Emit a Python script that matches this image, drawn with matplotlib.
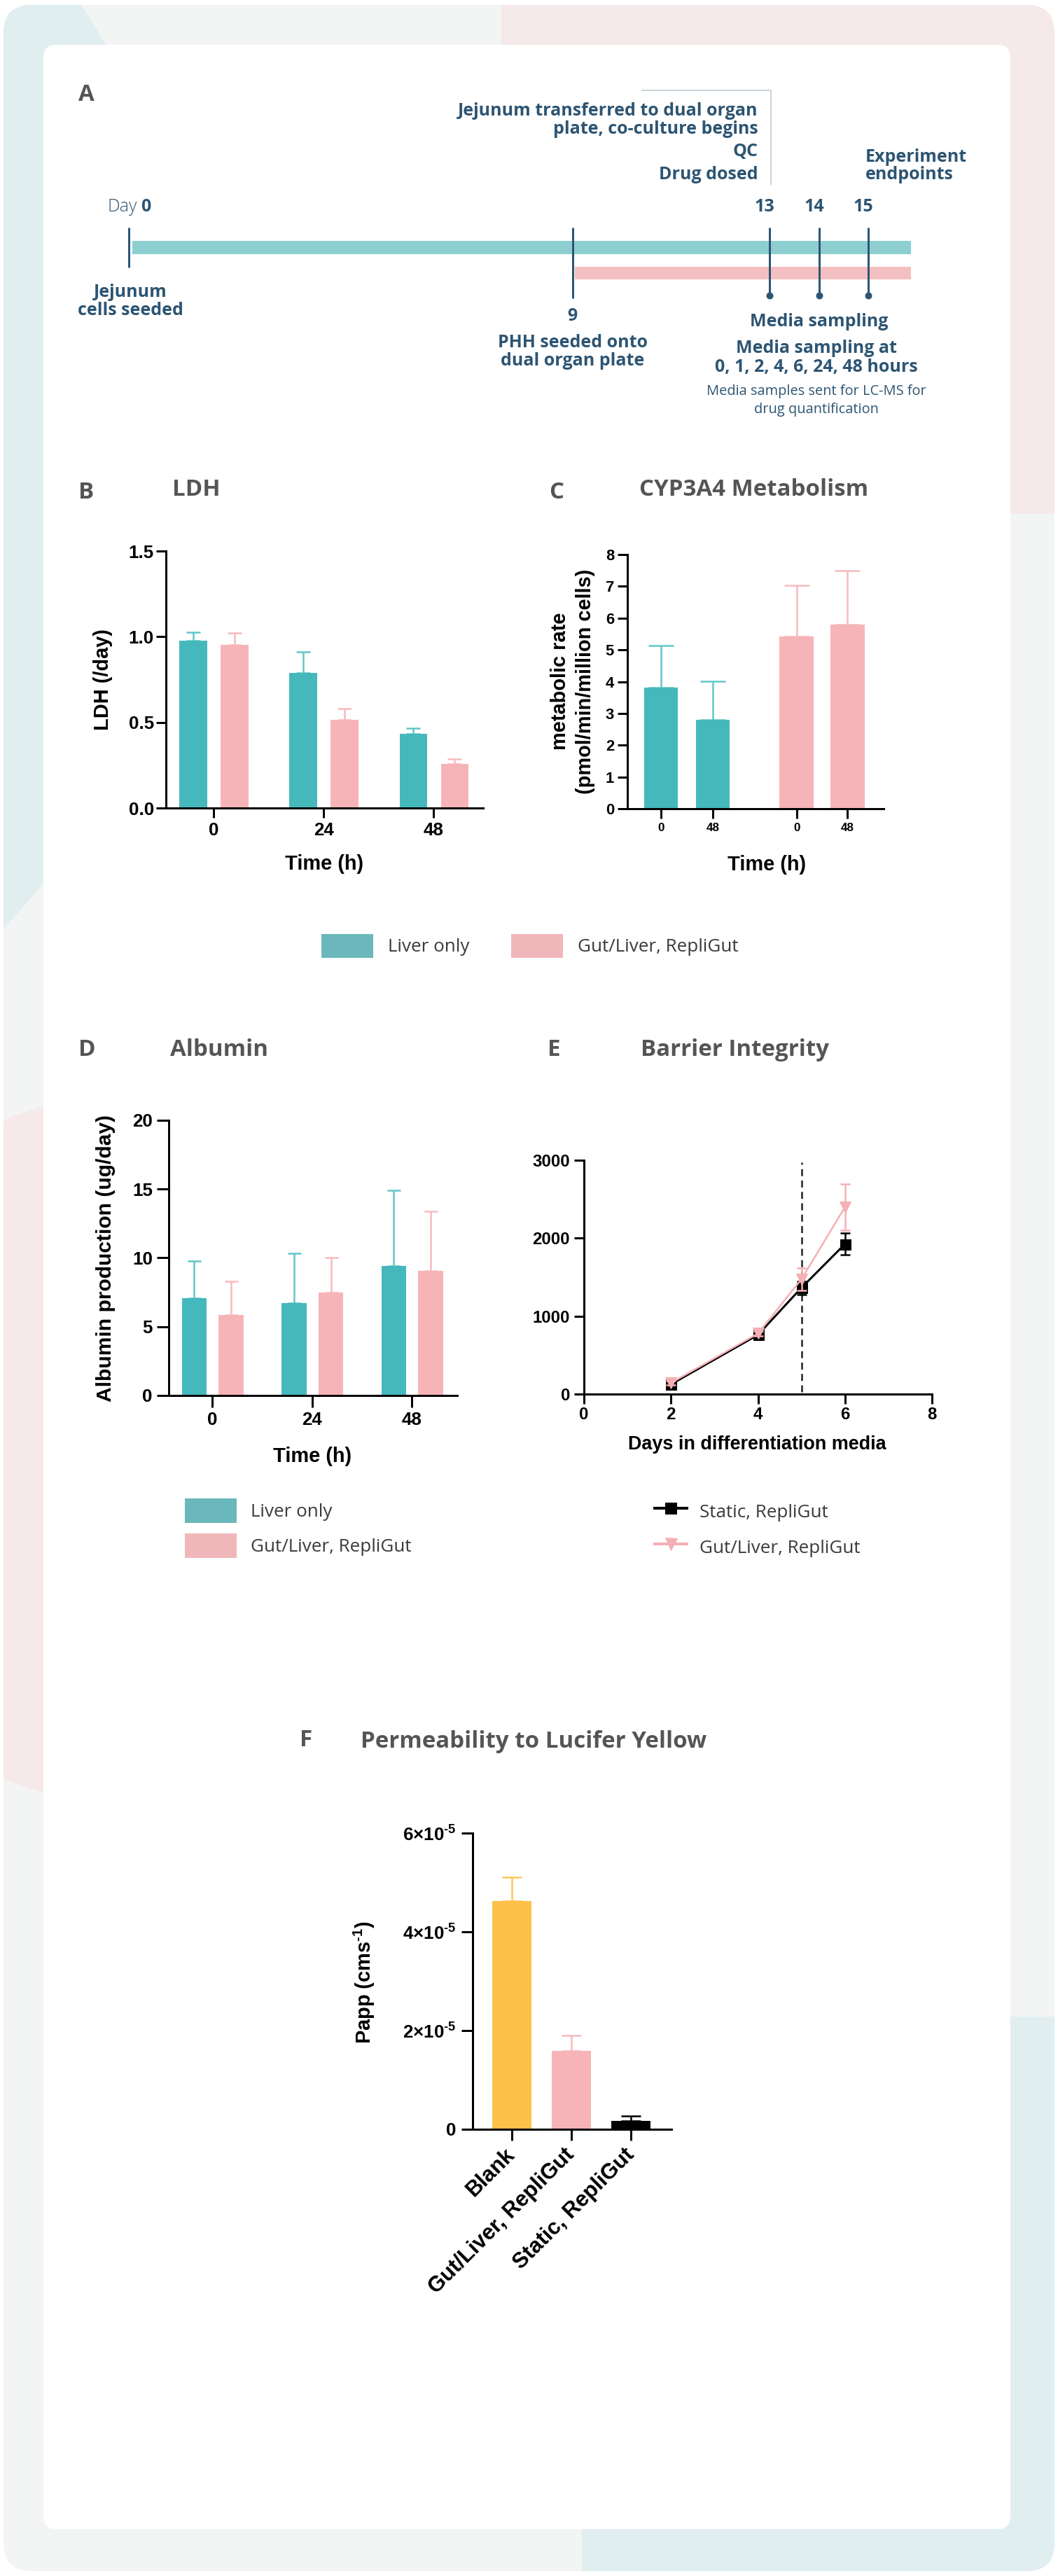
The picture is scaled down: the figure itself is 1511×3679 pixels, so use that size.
import numpy as np
import matplotlib
matplotlib.use("Agg")
import matplotlib.pyplot as plt
from matplotlib.patches import FancyBboxPatch, Circle, Patch
from matplotlib.lines import Line2D

# ---------------- data ----------------
# Panel A timeline (days)
milestone_days = [0, 9, 13, 14, 15]
sampling_days = [13, 14, 15]
track_end_day = 15.87
coculture_start_day = 9

# Panel B  LDH (/day)
ldh_times = ["0", "24", "48"]
ldh_liver = [0.975, 0.787, 0.435]
ldh_liver_err = [0.050, 0.124, 0.030]
ldh_gut = [0.953, 0.516, 0.257]
ldh_gut_err = [0.067, 0.064, 0.030]

# Panel C  CYP3A4 metabolism
cyp_labels = ["0", "48", "0", "48"]
cyp_values = [3.82, 2.79, 5.42, 5.80]
cyp_err = [1.31, 1.22, 1.60, 1.70]
cyp_group = ["liver", "liver", "gut", "gut"]

# Panel D  Albumin
alb_times = ["0", "24", "48"]
alb_liver = [7.05, 6.70, 9.42]
alb_liver_err = [2.72, 3.63, 5.50]
alb_gut = [5.83, 7.49, 9.07]
alb_gut_err = [2.45, 2.51, 4.33]

# Panel E  Barrier integrity
teer_days = [2, 4, 5, 6]
teer_static = [125, 760, 1364, 1925]
teer_static_err = [25, 30, 85, 137]
teer_gut = [143, 777, 1474, 2398]
teer_gut_err = [25, 30, 147, 295]
medium_switch_day = 5

# Panel F  Permeability
perm_labels = ["Blank", "Gut/Liver, RepliGut", "Static, RepliGut"]
perm_values = [4.63e-5, 1.585e-5, 0.165e-5]
perm_err = [0.48e-5, 0.32e-5, 0.105e-5]

# ---------------- style ----------------
W, H = 1511, 3679
DPI = 72
TEAL = "#45b8bc"
TEAL_E = "#62c6c9"
PINK = "#f7b4b8"
PINK_E = "#f7babd"
GOLD = "#fdc14a"
GOLD_E = "#fdc65a"
LEG_TEAL = "#6ab8bb"
LEG_PINK = "#efb7ba"
DB = "#2d5573"
GREY_T = "#555555"
UI = "Open Sans"

plt.rcParams["font.family"] = ["Liberation Sans", "DejaVu Sans"]
plt.rcParams["font.weight"] = "bold"
plt.rcParams["mathtext.fontset"] = "custom"
plt.rcParams["mathtext.rm"] = "Liberation Sans:bold"
plt.rcParams["mathtext.it"] = "Liberation Sans:bold"
plt.rcParams["mathtext.bf"] = "Liberation Sans:bold"
plt.rcParams["mathtext.default"] = "rm"

fig = plt.figure(figsize=(W / DPI, H / DPI), dpi=DPI)
fig.patch.set_facecolor("white")


def box(l, t, r, b):
    return [l / W, 1 - b / H, (r - l) / W, (b - t) / H]


def ftext(x, y, s, **kw):
    return fig.text(x / W, 1 - y / H, s, **kw)


# ---------------- background ----------------
bg = fig.add_axes([0, 0, 1, 1], zorder=-10)
bg.set_xlim(0, W)
bg.set_ylim(H, 0)
bg.axis("off")
outer = FancyBboxPatch((5, 7), 1501, 3665, boxstyle="round,pad=0,rounding_size=40",
                       facecolor="#f3f5f4", edgecolor="none")
bg.add_patch(outer)
shapes = [
    Circle((-771, 597), 1065, facecolor="#e1eeef", edgecolor="none"),
    FancyBboxPatch((716, -100), 950, 834, boxstyle="round,pad=0,rounding_size=60",
                   facecolor="#f6e9ea", edgecolor="none"),
    Circle((200, 2070), 509, facecolor="#f6e9ea", edgecolor="none"),
    FancyBboxPatch((831, 2880), 850, 900, boxstyle="round,pad=0,rounding_size=80",
                   facecolor="#e1eeef", edgecolor="none"),
]
for s in shapes:
    bg.add_patch(s)
    s.set_clip_path(outer)
card = FancyBboxPatch((62, 64), 1381, 3548, boxstyle="round,pad=0,rounding_size=18",
                      facecolor="white", edgecolor="none")
bg.add_patch(card)

# ---------------- panel letters & titles ----------------
tkw = dict(family=UI, weight="bold", color=GREY_T, fontsize=33, va="center", ha="left")
for lx, ly, letter in [(112, 135, "A"), (112, 703, "B"), (784, 703, "C"),
                       (112, 1500, "D"), (782, 1500, "E"), (428, 2486, "F")]:
    ftext(lx, ly, letter, **tkw)
ftext(246, 700, "LDH", **tkw)
ftext(913, 700, "CYP3A4 Metabolism", **tkw)
ftext(243, 1500, "Albumin", **tkw)
ftext(915, 1500, "Barrier Integrity", **tkw)
ftext(515, 2487, "Permeability to Lucifer Yellow", **tkw)

# ---------------- panel A: timeline ----------------
px0, pxd = 184.0, 70.4           # pixel of day 0, pixels per day
axA = fig.add_axes(box(62, 90, 1443, 640))
axA.set_xlim((62 - px0) / pxd, (1443 - px0) / pxd)
axA.set_ylim(640, 90)
axA.axis("off")
axA.barh(353.5, track_end_day - 0.07, left=0.07, height=19, color="#8dcfd1", edgecolor="none")
axA.barh(390, track_end_day - coculture_start_day - 0.05, left=coculture_start_day + 0.05,
         height=18, color="#f4bfc1", edgecolor="none")
axA.vlines(milestone_days[0], 325, 382, color=DB, lw=3)
axA.vlines(milestone_days[1], 325, 426, color=DB, lw=3)
axA.vlines(sampling_days, 325, 422, color=DB, lw=3)
axA.plot(sampling_days, [422] * len(sampling_days), "o", color=DB, ms=9)
# grey bracket
axA.plot([(917 - px0) / pxd, sampling_days[0] + 0.03, sampling_days[0] + 0.03],
         [129, 129, 263], color="#c9d3da", lw=2)

AFS = 25
akw = dict(family=UI, weight="bold", color=DB, fontsize=AFS, va="center")
xr = sampling_days[0] - 0.24
axA.text(xr, 158, "Jejunum transferred to dual organ", ha="right", **akw)
axA.text(xr, 184, "plate, co-culture begins", ha="right", **akw)
axA.text(xr, 216, "QC", ha="right", **akw)
axA.text(xr, 249, "Drug dosed", ha="right", **akw)
axA.text(sampling_days[-1] - 0.06, 224, "Experiment", ha="left", **akw)
axA.text(sampling_days[-1] - 0.06, 249, "endpoints", ha="left", **akw)
for d in milestone_days[2:]:
    axA.text(d - 0.1, 295, str(d), ha="center", **akw)
axA.text(0.17, 295, "Day", ha="right", family=UI, weight="light", color=DB, fontsize=AFS, va="center")
axA.text(0.24, 295, str(milestone_days[0]), ha="left", **akw)
axA.text(0.03, 418, "Jejunum", ha="center", **akw)
axA.text(0.03, 443, "cells seeded", ha="center", **akw)
axA.text(milestone_days[1], 452, str(milestone_days[1]), ha="center", **akw)
axA.text(milestone_days[1], 489, "PHH seeded onto", ha="center", **akw)
axA.text(milestone_days[1], 515, "dual organ plate", ha="center", **akw)
axA.text(14.0, 460, "Media sampling", ha="center", **akw)
axA.text(13.95, 498, "Media sampling at", ha="center", **akw)
axA.text(13.95, 524, "0, 1, 2, 4, 6, 24, 48 hours", ha="center", **akw)
skw = dict(family=UI, weight="normal", color=DB, fontsize=20, va="center", ha="center")
axA.text(13.95, 559, "Media samples sent for LC-MS for", **skw)
axA.text(13.95, 585, "drug quantification", **skw)


# ---------------- helpers for charts ----------------
def style(ax, length=14, tick_fs=25, xpad=6, ypad=4):
    for s in ["top", "right"]:
        ax.spines[s].set_visible(False)
    for s in ["left", "bottom"]:
        ax.spines[s].set_linewidth(3)
        ax.spines[s].set_color("black")
    ax.tick_params(width=3, length=length, direction="out", colors="black", labelsize=tick_fs)
    ax.tick_params(axis="x", pad=xpad)
    ax.tick_params(axis="y", pad=ypad)
    ax.set_facecolor("none")


def upper_err(ax, x, y, e, color, cap):
    ax.errorbar(x, y, yerr=[np.zeros(len(e)), e], fmt="none", ecolor=color,
                elinewidth=2.5, capsize=cap, capthick=2.5, clip_on=False, zorder=1)


lab_kw = dict(fontsize=29, weight="bold", color="black", ha="center", va="center")

# ---------------- panel B: LDH ----------------
axB = fig.add_axes(box(237, 787, 690, 1154))
xb = np.arange(len(ldh_times))
upper_err(axB, xb - 0.185, ldh_liver, ldh_liver_err, TEAL_E, 10)
upper_err(axB, xb + 0.19, ldh_gut, ldh_gut_err, PINK_E, 10)
axB.bar(xb - 0.185, ldh_liver, 0.25, color=TEAL, zorder=2)
axB.bar(xb + 0.19, ldh_gut, 0.25, color=PINK, zorder=2)
axB.set_xlim(-0.433, 2.45)
axB.set_ylim(0, 1.5)
axB.set_yticks([0, 0.5, 1.0, 1.5])
axB.set_yticklabels(["0.0", "0.5", "1.0", "1.5"])
axB.set_xticks(xb)
axB.set_xticklabels(ldh_times)
style(axB, 14, 26, xpad=6, ypad=3)
ftext(147, 970, "LDH (/day)", rotation=90, **lab_kw)
ftext(463, 1234, "Time (h)", **lab_kw)

# ---------------- panel C: CYP3A4 ----------------
axC = fig.add_axes(box(896, 792, 1262, 1155))
cyp_pos = [0, 1, 2.62, 3.6]
ccol = [TEAL if g == "liver" else PINK for g in cyp_group]
ecol = [TEAL_E if g == "liver" else PINK_E for g in cyp_group]
for p, v, e, c in zip(cyp_pos, cyp_values, cyp_err, ecol):
    upper_err(axC, [p], [v], [e], c, 18)
axC.bar(cyp_pos, cyp_values, 0.66, color=ccol, zorder=2)
axC.set_xlim(-0.65, 4.3)
axC.set_ylim(0, 8)
axC.set_yticks(range(0, 9))
axC.set_xticks(cyp_pos)
axC.set_xticklabels(cyp_labels)
style(axC, 14, 22, xpad=6, ypad=5)
axC.tick_params(axis="x", labelsize=17)
ftext(800, 973, "metabolic rate", rotation=90, **lab_kw)
ftext(836, 973, "(pmol/min/million cells)", rotation=90, **lab_kw)
ftext(1095, 1235, "Time (h)", **lab_kw)

# legend B/C
leg_prop = {"family": UI, "size": 26, "weight": "normal"}
hB = [Patch(facecolor=LEG_TEAL, edgecolor="none"), Patch(facecolor=LEG_PINK, edgecolor="none")]
fig.legend(hB, ["Liver only", "Gut/Liver, RepliGut"], loc="center left",
           bbox_to_anchor=(459 / W, 1 - 1351 / H), ncol=2, frameon=False, prop=leg_prop,
           handlelength=74 / 26, handleheight=44 / 26, handletextpad=21 / 26,
           columnspacing=60 / 26, borderpad=0, borderaxespad=0, labelcolor="#3a3a3a")

# ---------------- panel D: Albumin ----------------
axD = fig.add_axes(box(241, 1600, 653, 1993))
xd = np.arange(len(alb_times))
upper_err(axD, xd - 0.18, alb_liver, alb_liver_err, TEAL_E, 9.5)
upper_err(axD, xd + 0.19, alb_gut, alb_gut_err, PINK_E, 9.5)
axD.bar(xd - 0.18, alb_liver, 0.25, color=TEAL, zorder=2)
axD.bar(xd + 0.19, alb_gut, 0.25, color=PINK, zorder=2)
axD.set_xlim(-0.435, 2.456)
axD.set_ylim(0, 20)
axD.set_yticks([0, 5, 10, 15, 20])
axD.set_xticks(xd)
axD.set_xticklabels(alb_times)
style(axD, 17, 26, xpad=6, ypad=6)
ftext(151, 1797, "Albumin production (ug/day)", rotation=90, fontsize=30, weight="bold",
      color="black", ha="center", va="center")
ftext(446, 2080, "Time (h)", **lab_kw)
fig.legend(hB, ["Liver only", "Gut/Liver, RepliGut"], loc="upper left",
           bbox_to_anchor=(264 / W, 1 - 2140 / H), ncol=1, frameon=False, prop=leg_prop,
           handlelength=74 / 26, handleheight=44 / 26, handletextpad=20 / 26,
           labelspacing=15 / 26, borderpad=0, borderaxespad=0, labelcolor="#3a3a3a")

# ---------------- panel E: Barrier integrity ----------------
axE = fig.add_axes(box(834, 1657, 1331, 1991))
axE.errorbar(teer_days, teer_static, yerr=teer_static_err, color="black", marker="s", ms=15,
             lw=3, elinewidth=2.5, capsize=7, capthick=2.5, zorder=3)
axE.errorbar(teer_days, teer_gut, yerr=teer_gut_err, color="#f4b0b4", marker="v", ms=16,
             lw=2.5, elinewidth=2.5, capsize=7, capthick=2.5, zorder=4)
axE.axvline(medium_switch_day, ymin=0.01, ymax=0.99, color="#222222", lw=2.5,
            ls=(0, (4, 2.5)), zorder=2)
axE.set_xlim(0, 8)
axE.set_ylim(0, 3000)
axE.set_xticks([0, 2, 4, 6, 8])
axE.set_yticks([0, 1000, 2000, 3000])
style(axE, 14, 24, xpad=4, ypad=6)
ftext(1081, 2063, "Days in differentiation media", fontsize=27, weight="bold",
      color="black", ha="center", va="center")
hE = [Line2D([], [], color="black", marker="s", ms=16, lw=4),
      Line2D([], [], color="#f4b0b4", marker="v", ms=17, lw=4)]
fig.legend(hE, ["Static, RepliGut", "Gut/Liver, RepliGut"], loc="upper left",
           bbox_to_anchor=(935 / W, 1 - 2141 / H), ncol=1, frameon=False, prop=leg_prop,
           handlelength=46 / 26, handleheight=44 / 26, handletextpad=18 / 26,
           labelspacing=16 / 26, borderpad=0, borderaxespad=0, labelcolor="#3a3a3a")

# ---------------- panel F: Permeability ----------------
axF = fig.add_axes(box(675, 2618, 959, 3041))
xf = np.arange(len(perm_labels))
fcols = [GOLD, PINK, "black"]
fecols = [GOLD_E, PINK_E, "black"]
for p, v, e, c in zip(xf, perm_values, perm_err, fecols):
    upper_err(axF, [p], [v], [e], c, 14)
axF.bar(xf, perm_values, 0.66, color=fcols, zorder=2)
axF.set_xlim(-0.66, 2.68)
axF.set_ylim(0, 6e-5)
axF.set_yticks([0, 2e-5, 4e-5, 6e-5])
axF.set_yticklabels(["0", r"$2{\times}10^{\text{-}5}$", r"$4{\times}10^{\text{-}5}$",
                     r"$6{\times}10^{\text{-}5}$"])
axF.set_xticks(xf)
axF.set_xticklabels(perm_labels, rotation=45, ha="right", va="center", rotation_mode="anchor")
style(axF, 16, 26, xpad=16, ypad=8)
axF.tick_params(axis="x", labelsize=31)
ftext(520, 2831, r"Papp (cms$^{\text{-}1}$)", rotation=90, **lab_kw)

fig.savefig("out.png", dpi=DPI, facecolor="white")
